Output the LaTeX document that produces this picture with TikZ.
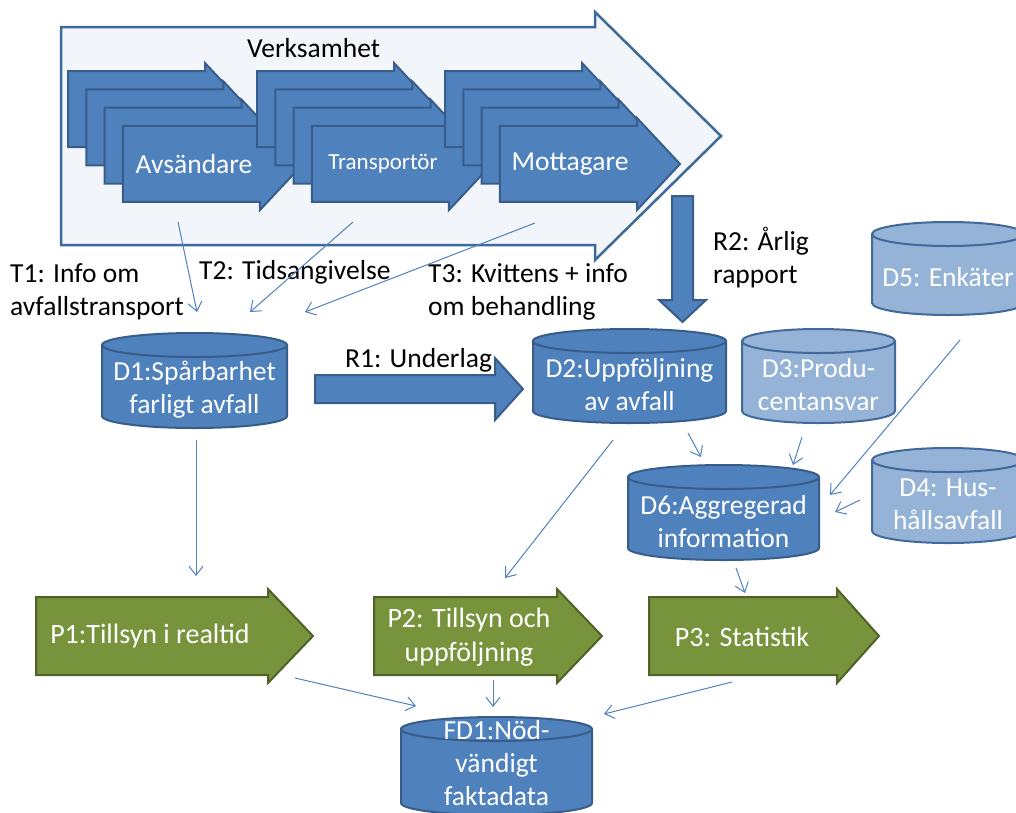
\documentclass[tikz,border=0pt]{standalone}
\usepackage{fontspec}
\setmainfont{Carlito}
\usetikzlibrary{arrows.meta}

\definecolor{dbfill}{HTML}{4F81BD}
\definecolor{dbline}{HTML}{385D8A}
\definecolor{dblight}{HTML}{95B3D7}
\definecolor{dblightline}{HTML}{41699B}
\definecolor{procfill}{HTML}{77933C}
\definecolor{procline}{HTML}{4F6228}
\definecolor{bandfill}{HTML}{F2F5F9}
\definecolor{bandline}{HTML}{3E6A9B}
\definecolor{linkcol}{HTML}{4F81BD}

% right-pointing block arrow: style, left x, top y, bottom y, head base x, head overhang, tip x
\newcommand{\rarrowpath}[7]{%
  \pgfmathsetmacro{\rmid}{(#3+#4)/2}%
  \path[#1] (#2,#3) -- (#5,#3) -- (#5,#3-#6) -- (#7,\rmid) -- (#5,#4+#6) -- (#5,#4) -- (#2,#4) -- cycle;}

% database cylinder: name, left, right, top, bottom, style, text, text centre shift
\newcommand{\dbcyl}[8]{%
  \pgfmathsetmacro{\crx}{(#3-#2)/2}%
  \pgfmathsetmacro{\ccx}{(#2+#3)/2}%
  \pgfmathsetmacro{\ccy}{(#4+#5)/2+#8}%
  \path[#6] (#2,#4+12) -- (#2,#5-12)
     arc[start angle=180,end angle=360,x radius=\crx pt,y radius=12pt]
     -- (#3,#4+12)
     arc[start angle=0,end angle=180,x radius=\crx pt,y radius=12pt] -- cycle;
  \path[#6,fill=none] (#2,#4+12) arc[start angle=180,end angle=360,x radius=\crx pt,y radius=12pt];
  \node[dbtext] (#1) at (\ccx,\ccy) {#7};}

% stack of four overlapping block arrows, front arrow starting at x=#1
\newcommand{\chevstack}[1]{%
  \foreach \k in {0,1,2,3}{%
    \pgfmathsetmacro{\sl}{#1-55+18.33*\k}%
    \pgfmathsetmacro{\st}{71+18.33*\k}%
    \rarrowpath{chev}{\sl}{\st}{\st+76}{\sl+137}{8}{\sl+180}%
  }}

\tikzset{
  chev/.style={fill=dbfill, draw=dbline, line width=2pt},
  band/.style={fill=bandfill, draw=bandline, line width=2.5pt},
  proc/.style={fill=procfill, draw=procline, line width=2pt},
  bigarrow/.style={fill=dbfill, draw=dbline, line width=2pt},
  dbdark/.style={fill=dbfill, draw=dbline, line width=2pt},
  dblite/.style={fill=dblight, draw=dblightline, line width=2pt},
  dbtext/.style={text=white, align=center, inner sep=0pt, font=\fontsize{27.5}{33}\selectfont},
  chevtext/.style={text=white, inner sep=0pt, font=\fontsize{27.5}{33}\selectfont},
  proctext/.style={text=white, align=center, inner sep=0pt, font=\fontsize{28}{34}\selectfont},
  lbl/.style={text=black, align=left, inner sep=0pt, font=\fontsize{27.5}{33}\selectfont},
  link/.style={draw=linkcol, line width=1pt, -{Straight Barb[length=9pt,width=14pt]}},
}

\begin{document}
\begin{tikzpicture}[x=1pt,y=-1pt]
\useasboundingbox (0,0) rectangle (1016,812);

% business process band
\rarrowpath{band}{61}{27}{245}{595}{15}{721}
\node[lbl, anchor=base west] (verks) at (247,57) {Verksamhet};

% actors
\chevstack{123}
\node[chevtext] (snd) at (194,164) {Avsändare};
\chevstack{312}
\node[chevtext, font=\fontsize{23}{28}\selectfont] (trp) at (383,164) {Transportör};
\chevstack{500}
\node[chevtext] (mtg) at (570,164) {Mottagare};

% data stores
\dbcyl{d1}{102}{287}{333}{428}{dbdark}{D1:Spårbarhet\\farligt avfall}{9}
\dbcyl{d2}{533}{726}{329}{423}{dbdark}{D2:Uppföljning\\av avfall}{9}
\dbcyl{d3}{742}{895}{329}{423}{dblite}{D3:Produ-\\centansvar}{9}
\dbcyl{d5}{872}{1024}{222}{315}{dblite}{D5: Enkäter}{9}
\dbcyl{d4}{872}{1024}{448}{543}{dblite}{D4: Hus-\\hållsavfall}{9}
\dbcyl{d6}{628}{819}{465}{560}{dbdark}{D6:Aggregerad\\information}{9}
\dbcyl{fd1}{401}{592}{717}{815}{dbdark}{\fontsize{27.5}{31}\selectfont FD1:Nöd-\\vändigt\\faktadata}{-3}

% reporting flows
\rarrowpath{bigarrow}{315}{375}{403}{495}{17}{523}
\path[bigarrow] (672,196) -- (693,196) -- (693,300) -- (706,300) -- (682.5,322)
  -- (659,300) -- (672,300) -- cycle;

% processes
\rarrowpath{proc}{36}{597}{675}{268}{8}{313}
\node[proctext] (p1) at (150,636) {P1:Tillsyn i realtid};
\rarrowpath{proc}{374}{597}{675}{557}{8}{602}
\node[proctext] (p2) at (469,637) {P2: Tillsyn och\\uppföljning};
\rarrowpath{proc}{649}{597}{675}{837}{8}{879}
\node[proctext] (p3) at (742,637) {P3: Statistik};

% labels (base anchor sits on the last line)
\node[lbl, anchor=base west] (t1) at (10,315) {T1: Info om\\avfallstransport};
\node[lbl, anchor=base west] (t2) at (199,279) {T2: Tidsangivelse};
\node[lbl, anchor=base west] (t3) at (428,315) {T3: Kvittens + info\\om behandling};
\node[lbl, anchor=base west] (r2) at (713,283) {R2: Årlig\\rapport};
\node[lbl, anchor=base west] (r1) at (345,367) {R1: Underlag};

% information flows
\draw[link] ([shift={(-16,58)}]snd.center) -- ([shift={(2.5,-77.5)}]d1.center);
\draw[link] ([shift={(-30,58)}]trp.center) -- ([shift={(55.5,-77.5)}]d1.center);
\draw[link] ([shift={(-35,59)}]mtg.center) -- ([shift={(110.5,-77.5)}]d1.center);
\draw[link] ([shift={(1.5,50.5)}]d1.center) -- ([shift={(46,-60)}]p1.center);
\draw[link] ([shift={(-16.5,55)}]d2.center) -- ([shift={(36,-59)}]p2.center);
\draw[link] ([shift={(58.5,48)}]d2.center) -- ([shift={(-22.5,-64.5)}]d6.center);
\draw[link] ([shift={(-16.5,52)}]d3.center) -- ([shift={(69.5,-56.5)}]d6.center);
\draw[link] ([shift={(12,62.5)}]d5.center) -- ([shift={(106.5,-26.5)}]d6.center);
\draw[link] ([shift={(-88,-4.5)}]d4.center) -- ([shift={(111.5,-9.5)}]d6.center);
\draw[link] ([shift={(12.5,46.5)}]d6.center) -- ([shift={(3,-44)}]p3.center);
\draw[link] ([shift={(145,42)}]p1.center) -- ([shift={(-80.5,-57)}]fd1.center);
\draw[link] ([shift={(24,43)}]p2.center) -- ([shift={(-3.5,-56)}]fd1.center);
\draw[link] ([shift={(-10,45)}]p3.center) -- ([shift={(107.5,-49)}]fd1.center);
\end{tikzpicture}
\end{document}
